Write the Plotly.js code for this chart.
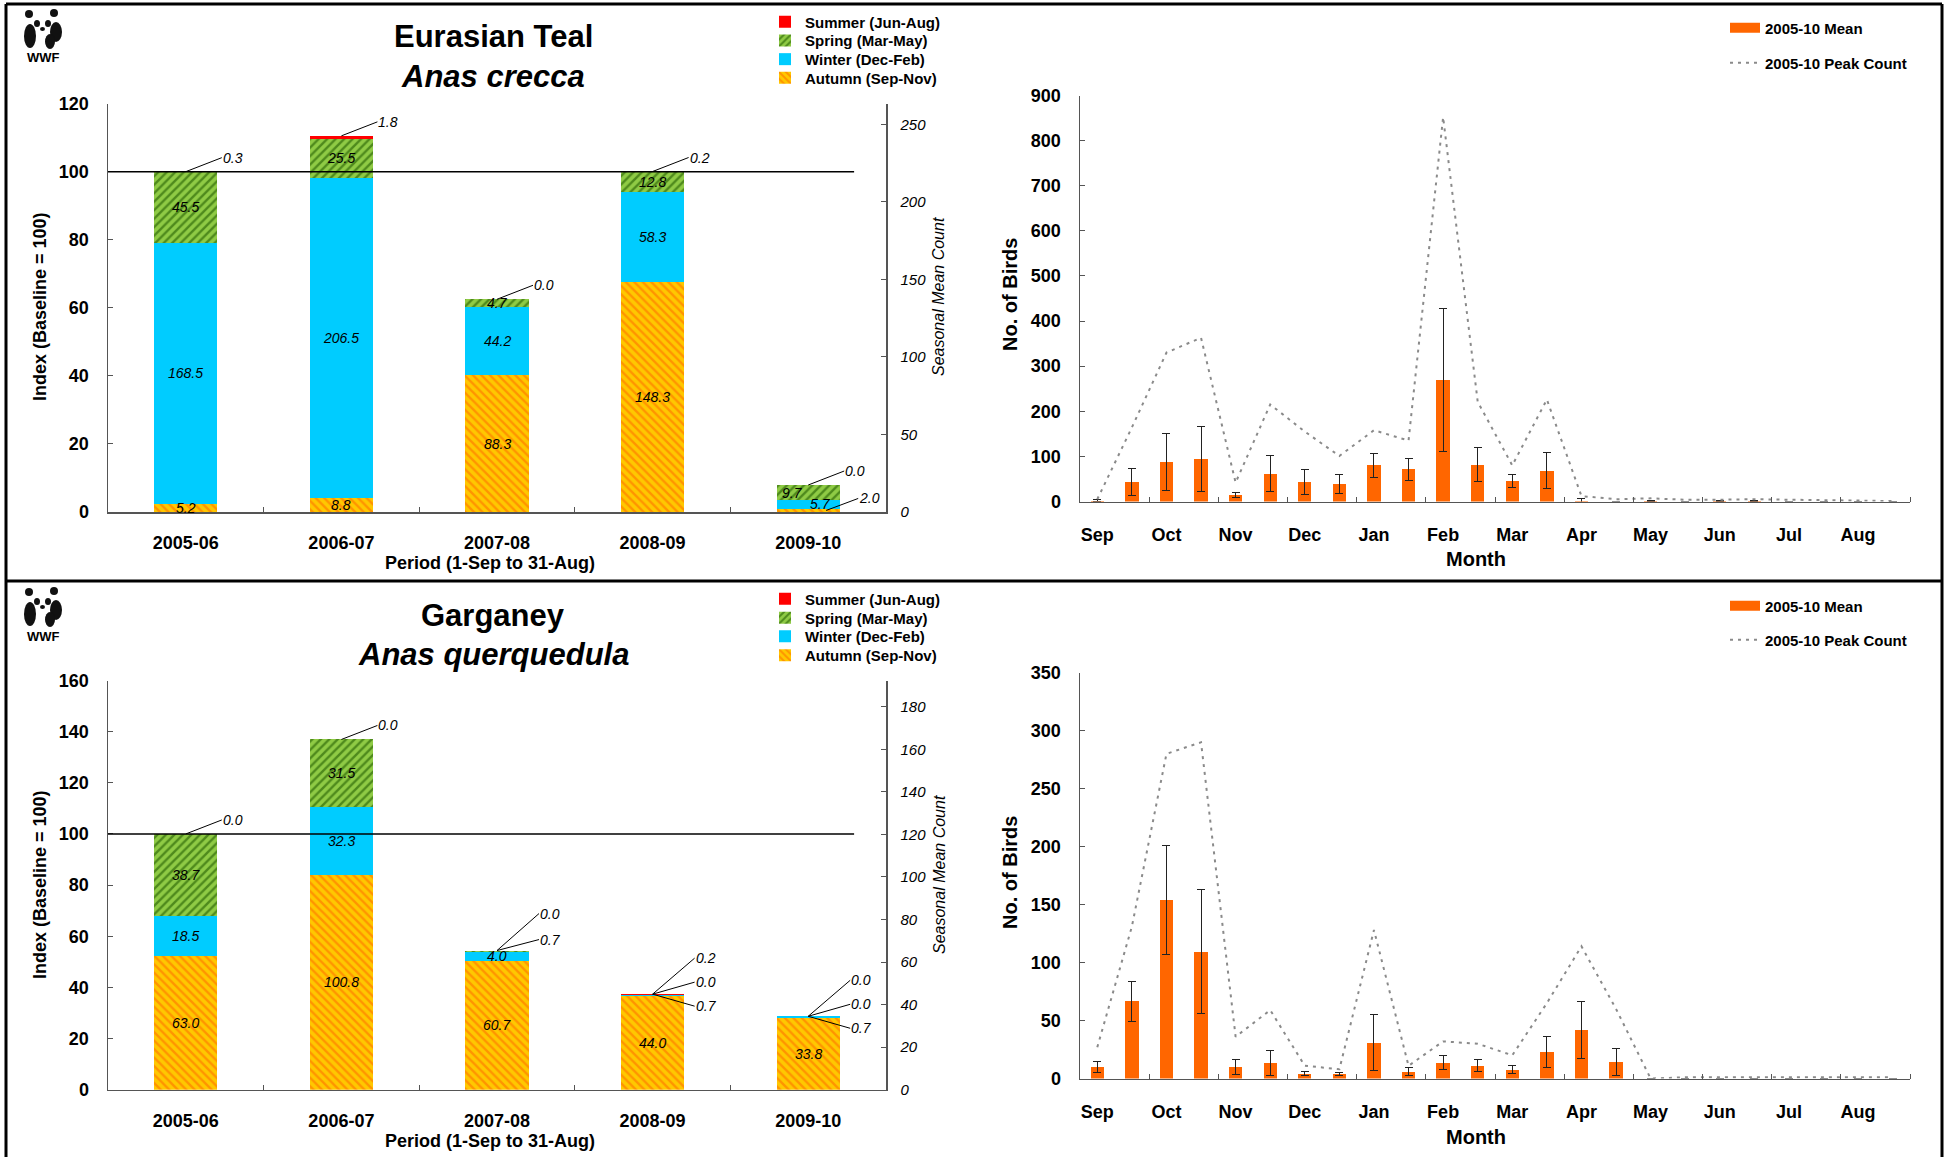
<!DOCTYPE html>
<html><head><meta charset="utf-8">
<script src="https://cdn.plot.ly/plotly-3.0.1.min.js"></script>
<style>html,body{margin:0;padding:0;background:#fff;}#chart{width:1950px;height:1157px;}</style>
</head><body><div id="chart"></div>
<script>
// ---------------- DATA ----------------
const periods = ['2005-06', '2006-07', '2007-08', '2008-09', '2009-10'];

// Eurasian Teal – seasonal mean counts
const tealAutumn = [5.2, 8.8, 88.3, 148.3, 2.0];
const tealWinter = [168.5, 206.5, 44.2, 58.3, 5.7];
const tealSpring = [45.5, 25.5, 4.7, 12.8, 9.7];
const tealSummer = [0.3, 1.8, 0.0, 0.2, 0.0];

// Garganey – seasonal mean counts
const gargAutumn = [63.0, 100.8, 60.7, 44.0, 33.8];
const gargWinter = [18.5, 32.3, 4.0, 0.7, 0.7];
const gargSpring = [38.7, 31.5, 0.7, 0.0, 0.0];
const gargSummer = [0.0, 0.0, 0.0, 0.2, 0.0];

// half-month categories (two per month) and month tick labels
const halfMonths = ['Sep a','Sep b','Oct a','Oct b','Nov a','Nov b','Dec a','Dec b','Jan a','Jan b','Feb a','Feb b',
                    'Mar a','Mar b','Apr a','Apr b','May a','May b','Jun a','Jun b','Jul a','Jul b','Aug a','Aug b'];
const monthLabels = ['Sep','Oct','Nov','Dec','Jan','Feb','Mar','Apr','May','Jun','Jul','Aug'];

const tealMean = [2, 43, 88, 94, 14, 62, 43, 39, 80, 71, 269, 82, 45, 68, 2, 0, 1, 0, 1, 2, 0, 0, 0, 0];
const tealErr  = [1.5, 30, 63, 72, 5, 40, 27, 21, 27, 25, 158, 37, 15, 40, 5, 0, 1, 0, 1, 1, 0, 0, 0, 0];
const tealPeak = [5, 164, 330, 363, 42, 215, 155, 101, 158, 135, 852, 221, 80, 226, 12, 5, 7, 4, 4, 5, 4, 3, 2, 1];

const gargMean = [10, 66.5, 154, 109.5, 10, 13.5, 4.3, 3.8, 31, 6, 13.5, 11, 7.5, 22.8, 42, 14.5, 0, 0, 0, 0, 0, 0, 0, 0];
const gargErr  = [4.5, 17, 47, 53.5, 6.5, 11, 1.5, 1.6, 24.5, 3.8, 6, 5, 3.3, 13.7, 24.4, 11.5, 0, 0, 0, 0, 0, 0, 0, 0];
const gargPeak = [27, 131, 280, 290, 36, 59, 11, 8, 128, 11, 32, 30, 20, 65, 114, 60, 0, 1, 1, 1, 1, 1, 1, 1];

// ---------------- LAYOUT HELPERS ----------------
const W = 1950, H = 1157;
const px = x => x / W;
const py = y => 1 - y / H;
const FONT = 'Liberation Sans, Arial, Helvetica, sans-serif';
const AXC = '#555';
const legFont = {family: FONT, size: 15, color: '#000', weight: 'bold'};

const seasonNames = ['Autumn (Sep-Nov)', 'Winter (Dec-Feb)', 'Spring (Mar-May)', 'Summer (Jun-Aug)'];
const seasonStyle = [
  {color: '#FFC000', pattern: {shape: '\\', fgcolor: '#FF9400', bgcolor: '#FFC800', size: 6, solidity: 0.4}},
  {color: '#00CCFF'},
  {color: '#8DC63F', pattern: {shape: '/', fgcolor: '#4E8A1C', bgcolor: '#8FCB45', size: 6, solidity: 0.4}},
  {color: '#FF0000'}
];

const data = [];
const annotations = [];
const shapes = [];
const legends = {};
let legCount = 0;
function newLegend(xLeft, yTop) {
  legCount++;
  const id = legCount === 1 ? 'legend' : 'legend' + legCount;
  legends[id] = {x: px(xLeft), y: py(yTop), xanchor: 'left', yanchor: 'top', font: legFont,
    bgcolor: 'rgba(0,0,0,0)', borderwidth: 0};
  return id;
}

function sum(a) { return a.reduce((s, v) => s + v, 0); }

function leftChart(seasons, xa, ya, ya2, pxPerUnit, legendTops) {
  const base = sum(seasons.map(a => a[0]));  // 2005-06 total = index 100
  seasons.forEach((arr, j) => {
    data.push({
      type: 'bar', x: periods, y: arr.map(v => v / base * 100),
      xaxis: xa, yaxis: ya, name: seasonNames[j], legend: newLegend(765, legendTops[3 - j]),
      marker: Object.assign({line: {width: 0}}, seasonStyle[j]),
      hoverinfo: 'skip'
    });
  });
  // invisible anchor so the seasonal-count axis on the right is drawn
  data.push({type: 'scatter', mode: 'markers', x: [periods[0]], y: [0], xaxis: xa, yaxis: ya2,
    marker: {opacity: 0, size: 1}, showlegend: false, hoverinfo: 'skip'});

  const lf = {family: FONT, size: 14, color: '#000', style: 'italic'};
  periods.forEach((p, i) => {
    const vals = seasons.map(a => a[i]);
    let cum = 0;
    const segs = vals.map(v => { const h = v / base * 100; const s = {y0: cum, y1: cum + h, v: v, small: h < 1.5, thin: h * pxPerUnit < 18}; cum += h; return s; });
    const top = cum;
    const run = [];
    for (let j = 3; j >= 0 && segs[j].small; j--) run.push(j);
    const n = run.length;
    const ays = n === 1 ? [-14] : n === 2 ? [-37, -11] : [-36, -12, 12, 36];
    const axv = n === 1 ? 36 : 42;
    run.forEach((j, k) => {
      annotations.push({xref: xa, yref: ya, x: p, y: top, text: vals[j].toFixed(1), showarrow: true,
        ax: axv, ay: ays[k], xanchor: 'left', yanchor: 'middle', arrowhead: 0, arrowwidth: 1,
        arrowcolor: '#000', standoff: 0, startstandoff: 0, font: lf, borderpad: 0});
    });
    segs.forEach((s, j) => {
      if (run.includes(j)) return;
      const mid = (s.y0 + s.y1) / 2;
      if (s.small) {
        annotations.push({xref: xa, yref: ya, x: p, y: mid, xshift: 18, text: s.v.toFixed(1), showarrow: true,
          ax: 32, ay: -12, xanchor: 'left', yanchor: 'middle', arrowhead: 0, arrowwidth: 1,
          arrowcolor: '#000', standoff: 0, startstandoff: 0, font: lf, borderpad: 0});
      } else {
        // stagger two neighbouring thin labels so they do not sit on each other
        let xs = 0;
        const below = segs[j - 1], above = segs[j + 1];
        if (s.thin && below && !below.small && below.thin) xs = -16;
        else if (s.thin && above && !above.small && above.thin) xs = 12;
        annotations.push({xref: xa, yref: ya, x: p, y: mid, xshift: xs, text: s.v.toFixed(1), showarrow: false, font: lf});
      }
    });
  });
  shapes.push({type: 'line', xref: xa + ' domain', yref: ya, x0: 0, x1: 0.959, y0: 100, y1: 100,
    line: {color: '#000', width: 1.5}});
  return base;
}

function rightChart(mean, err, peak, xa, ya, legTopMean, legTopPeak) {
  const xs = mean.map((_, i) => i);
  const lm = newLegend(1725, legTopMean);
  const lp = newLegend(1725, legTopPeak);
  data.push({type: 'bar', x: xs, y: mean, xaxis: xa, yaxis: ya, name: '2005-10 Mean', width: 0.385,
    showlegend: false, marker: {color: '#FF6600', line: {width: 0}},
    error_y: {type: 'data', array: err, visible: true, color: '#222', thickness: 1, width: 4},
    hoverinfo: 'skip'});
  // legend entry with a wide orange swatch like the original
  data.push({type: 'scatter', mode: 'lines', x: [null], y: [null], xaxis: xa, yaxis: ya,
    name: '2005-10 Mean', legend: lm, line: {color: '#FF6600', width: 10}, hoverinfo: 'skip'});
  data.push({type: 'scatter', mode: 'lines', x: xs, y: peak, xaxis: xa, yaxis: ya,
    name: '2005-10 Peak Count', legend: lp,
    line: {color: '#8a8a8a', width: 2, dash: '3px,5px'}, hoverinfo: 'skip'});
}

const tealBase = leftChart([tealAutumn, tealWinter, tealSpring, tealSummer], 'x', 'y', 'y2',
  (512 - 103.6) / 120, [5.5, 24.2, 42.9, 61.6]);
const gargBase = leftChart([gargAutumn, gargWinter, gargSpring, gargSummer], 'x2', 'y3', 'y4',
  (1089.7 - 680.5) / 160, [582.5, 601.5, 620, 639]);
rightChart(tealMean, tealErr, tealPeak, 'x3', 'y5', 11.5, 46.5);
rightChart(gargMean, gargErr, gargPeak, 'x4', 'y6', 589.5, 623.5);

// ---------------- AXES ----------------
const tickBold = {family: FONT, size: 18, color: '#000', weight: 'bold'};
function catX(anchor) {
  return {domain: [px(108), px(886)], anchor: anchor, type: 'category', tickson: 'boundaries',
    ticks: 'inside', ticklen: 5, tickcolor: AXC, showline: true, linecolor: AXC, linewidth: 1.5,
    showgrid: false, zeroline: false, tickfont: tickBold, ticklabelstandoff: 14, fixedrange: true};
}
function leftY(y0, y1, max, anchor) {
  return {domain: [py(y0), py(y1)], anchor: anchor, range: [0, max], dtick: 20, tick0: 0,
    ticks: 'inside', ticklen: 5, tickcolor: AXC, showline: true, linecolor: AXC, linewidth: 1.5,
    showgrid: false, zeroline: false, tickfont: tickBold, ticklabelstandoff: 14, fixedrange: true};
}
function rightY2(over, anchor, max, dt) {
  return {overlaying: over, anchor: anchor, side: 'right', range: [0, max], dtick: dt, tick0: 0,
    ticks: 'inside', ticklen: 5, tickcolor: AXC, showline: true, linecolor: AXC, linewidth: 1.5,
    showgrid: false, zeroline: false, fixedrange: true, ticklabelstandoff: 10,
    tickfont: {family: FONT, size: 15, color: '#000', style: 'italic'}};
}
function monthX(anchor) {
  return {domain: [px(1080), px(1910)], anchor: anchor, range: [-0.5, halfMonths.length - 0.5],
    tickmode: 'array', tickvals: monthLabels.map((_, m) => 2 * m), ticktext: monthLabels,
    ticks: '', showline: true, linecolor: AXC, linewidth: 1.5, showgrid: false, zeroline: false,
    tickfont: tickBold, ticklabelstandoff: 16, fixedrange: true,
    minor: {tickmode: 'array', tickvals: monthLabels.map((_, m) => 2 * m + 1.5), ticks: 'inside',
      ticklen: 5, tickcolor: AXC, showgrid: false}};
}
function countY(y0, y1, max, dt, anchor) {
  return {domain: [py(y0), py(y1)], anchor: anchor, range: [0, max], dtick: dt, tick0: 0,
    ticks: 'inside', ticklen: 5, tickcolor: AXC, showline: true, linecolor: AXC, linewidth: 1.5,
    showgrid: false, zeroline: false, tickfont: tickBold, ticklabelstandoff: 14, fixedrange: true};
}

// ---------------- TEXT ----------------
function T(text, x, y, size, font, extra) {
  annotations.push(Object.assign({xref: 'paper', yref: 'paper', x: px(x), y: py(y), text: text,
    showarrow: false, xanchor: 'center', yanchor: 'middle',
    font: Object.assign({family: FONT, size: size, color: '#000'}, font || {})}, extra || {}));
}
const offs = [0, 578];
const titles = [['Eurasian Teal', 'Anas crecca'], ['Garganey', 'Anas querquedula']];
offs.forEach((o, k) => {
  T(titles[k][0], 493, 37 + o, 31, {weight: 'bold'});
  T(titles[k][1], 493, 76 + o, 31, {style: 'italic', weight: 'bold'});
  T('Index (Baseline = 100)', 40, 307 + o, 18, {weight: 'bold'}, {textangle: -90});
  T('Seasonal Mean Count', 939, 297 + o, 16, {style: 'italic'}, {textangle: -90});
  T('Period (1-Sep to 31-Aug)', 490, 563 + o, 18, {weight: 'bold'});
  T('No. of Birds', 1010, 295 + o, 20, {weight: 'bold'}, {textangle: -90});
  T('Month', 1476, 559 + o, 20, {weight: 'bold'});
  T('WWF', 43, 58 + o, 13, {weight: 'bold'});
  // simplified panda mark
  const blk = {color: '#000', width: 0};
  const c = (x0, y0, x1, y1) => shapes.push({type: 'circle', xref: 'paper', yref: 'paper',
    x0: px(x0), x1: px(x1), y0: py(y0 + o), y1: py(y1 + o), fillcolor: '#111', line: blk});
  c(25, 10, 33, 18); c(50, 9, 58, 17);
  c(34, 20, 40, 27); c(45, 20, 51, 27); c(40, 27, 45, 31);
  c(24, 24, 36, 48); c(50, 22, 62, 42); c(45, 34, 55, 49);
});

// frame lines
const fl = {color: '#000', width: 3};
shapes.push({type: 'line', xref: 'paper', yref: 'paper', x0: px(6), x1: px(6), y0: py(4), y1: 0, line: fl});
shapes.push({type: 'line', xref: 'paper', yref: 'paper', x0: px(1942), x1: px(1942), y0: py(4), y1: 0, line: fl});
shapes.push({type: 'line', xref: 'paper', yref: 'paper', x0: px(6), x1: px(1942), y0: py(4), y1: py(4), line: fl});
shapes.push({type: 'line', xref: 'paper', yref: 'paper', x0: px(6), x1: px(1942), y0: py(581), y1: py(581), line: fl});

const layout = Object.assign({
  width: W, height: H, margin: {l: 0, r: 0, t: 0, b: 0},
  paper_bgcolor: '#fff', plot_bgcolor: 'rgba(0,0,0,0)',
  font: {family: FONT, color: '#000'},
  barmode: 'stack', bargap: 0.595,
  showlegend: true,
  xaxis: catX('y'),
  yaxis: leftY(512, 103.6, 120, 'x'),
  yaxis2: rightY2('y', 'x', 120 * tealBase / 100, 50),
  xaxis2: catX('y3'),
  yaxis3: leftY(1089.7, 680.5, 160, 'x2'),
  yaxis4: rightY2('y3', 'x2', 160 * gargBase / 100, 20),
  xaxis3: monthX('y5'),
  yaxis5: countY(501.5, 95.5, 900, 100, 'x3'),
  xaxis4: monthX('y6'),
  yaxis6: countY(1078.5, 672.7, 350, 50, 'x4'),
  annotations: annotations,
  shapes: shapes
}, legends);

Plotly.newPlot('chart', data, layout, {staticPlot: true, displayModeBar: false});
</script>
</body></html>
